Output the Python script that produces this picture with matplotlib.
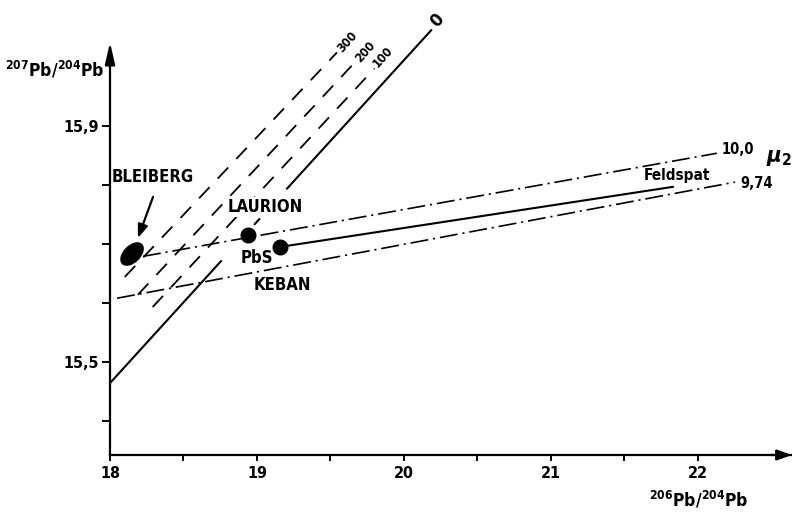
import matplotlib
matplotlib.use('Agg')
import matplotlib.pyplot as plt
import matplotlib.transforms as mtransforms
from matplotlib.patches import Ellipse
from matplotlib import font_manager as fm

# pick a condensed bold sans if one is installed
_names = {f.name for f in fm.fontManager.ttflist}
_dv_cond = any(f.name == 'DejaVu Sans' and 'condensed' in str(f.stretch)
               for f in fm.fontManager.ttflist)
if 'Liberation Sans Narrow' in _names:
    FAM, STRETCH = 'Liberation Sans Narrow', 'normal'
elif _dv_cond:
    FAM, STRETCH = 'DejaVu Sans', 'condensed'
elif 'Roboto Condensed' in _names:
    FAM, STRETCH = 'Roboto Condensed', 'normal'
else:
    FAM, STRETCH = 'Roboto', 'normal'

plt.rcParams['font.family'] = [FAM, 'DejaVu Sans']
plt.rcParams['font.weight'] = 'bold'
plt.rcParams['font.stretch'] = STRETCH
plt.rcParams['mathtext.fontset'] = 'custom'
_pat = FAM + ':weight=bold:stretch=' + STRETCH
plt.rcParams['mathtext.rm'] = _pat
plt.rcParams['mathtext.bf'] = _pat
plt.rcParams['mathtext.it'] = FAM + ':style=italic:weight=bold:stretch=' + STRETCH
plt.rcParams['lines.scale_dashes'] = False

# ---------------- data ----------------
xlim = (18.0, 22.64)
ylim = (15.342, 16.114)
y_axis_top = 16.042
x_major = [18, 19, 20, 21, 22]
x_major_labels = ['18', '19', '20', '21', '22']
x_minor = [18.5, 19.5, 20.5, 21.5]
y_ticks = [15.4, 15.5, 15.6, 15.7, 15.8, 15.9]
y_tick_labels = ['', '15,5', '', '', '', '15,9']

# zero-age isochron (solid), drawn in pieces along its course
iso0_start = (18.0, 15.464)
iso0_end = (20.19, 16.064)
iso0_segments = [(18.0, 18.76), (18.98, 19.02), (19.20, 20.19)]
iso0_label = '0'
iso0_label_pos = (20.224, 16.08)

# dashed isochrons
iso_labels = ['100', '200', '300']
iso_x0 = [18.29, 18.19, 18.10]
iso_y0 = [15.593, 15.614, 15.644]
iso_x1 = [19.80, 19.68, 19.544]
iso_y1 = [15.998, 16.012, 16.025]
iso_label_x = [19.857, 19.735, 19.612]
iso_label_y = [16.017, 16.026, 16.042]

# mu2 growth lines (dash-dot)
mu_labels = ['10,0', '9,74']
mu_x0 = [18.224, 18.048]
mu_y0 = [15.679, 15.608]
mu_x1 = [22.129, 22.252]
mu_y1 = [15.854, 15.805]
mu_label_x = [22.163, 22.286]
mu_label_y = [15.861, 15.803]

# feldspar line
feld_x = [19.156, 21.83]
feld_y = [15.695, 15.797]

# samples
laurion = (18.939, 15.715)
keban = (19.156, 15.695)
bleiberg = (18.150, 15.683)

# ---------------- figure ----------------
fig = plt.figure(figsize=(7.92, 5.12), dpi=100)
ax = fig.add_axes([110 / 792, 57 / 512, 682 / 792, 455 / 512])
ax.set_xlim(*xlim)
ax.set_ylim(*ylim)
for s in ['top', 'right']:
    ax.spines[s].set_visible(False)
ax.spines['left'].set_bounds(ylim[0], y_axis_top - 0.02)
ax.spines['left'].set_linewidth(1.6)
ax.spines['bottom'].set_linewidth(1.6)

# arrows on axes
ax.annotate('', xy=(xlim[0], y_axis_top), xytext=(xlim[0], y_axis_top - 0.04),
            arrowprops=dict(arrowstyle='-|>,head_length=1.3,head_width=0.3',
                            color='black', lw=1.6, shrinkA=0, shrinkB=0),
            annotation_clip=False)
ax.annotate('', xy=(xlim[1], ylim[0]), xytext=(xlim[1] - 0.15, ylim[0]),
            arrowprops=dict(arrowstyle='-|>,head_length=0.9,head_width=0.32',
                            color='black', lw=1.6, shrinkA=0, shrinkB=0),
            annotation_clip=False)

ax.set_xticks(x_major)
ax.set_xticklabels(x_major_labels)
ax.set_xticks(x_minor, minor=True)
ax.set_yticks(y_ticks)
ax.set_yticklabels(y_tick_labels)
ax.tick_params(axis='x', which='both', direction='out', length=4, width=1.4,
               labelsize=11.5, pad=4)
ax.tick_params(axis='y', direction='out', length=6, width=1.4, labelsize=11.5, pad=2)

# zero isochron
slope0 = (iso0_end[1] - iso0_start[1]) / (iso0_end[0] - iso0_start[0])
for a, b in iso0_segments:
    ax.plot([a, b], [iso0_start[1] + slope0 * (a - iso0_start[0]),
                     iso0_start[1] + slope0 * (b - iso0_start[0])],
            color='black', lw=1.5, solid_capstyle='butt', clip_on=False)
ax.text(*iso0_label_pos, iso0_label, rotation=48, ha='center', va='center',
        fontsize=13, clip_on=False)

# dashed isochrons
for xa, ya, xb, yb, lab, lx, ly in zip(iso_x0, iso_y0, iso_x1, iso_y1,
                                         iso_labels, iso_label_x, iso_label_y):
    ax.plot([xa, xb], [ya, yb], color='black', lw=1.3,
            linestyle=(0, (11, 8.5)), dash_capstyle='butt')
    ax.text(lx, ly, lab, rotation=48, ha='center', va='center', fontsize=9)

# mu2 growth lines
for xa, ya, xb, yb, lab, lx, ly in zip(mu_x0, mu_y0, mu_x1, mu_y1,
                                         mu_labels, mu_label_x, mu_label_y):
    ax.plot([xa, xb], [ya, yb], color='black', lw=1.2,
            linestyle=(0, (13, 3.5, 1.5, 3.5)), dash_capstyle='butt')
    ax.text(lx, ly, lab, ha='left', va='center', fontsize=10.5)
ax.text(22.465, 15.846, r'$\mu_2$', ha='left', va='center', fontsize=16,
        math_fontfamily='dejavusans', clip_on=False)

# feldspar line
ax.plot(feld_x, feld_y, color='black', lw=1.5)
ax.text(21.857, 15.817, 'Feldspat', ha='center', va='center', fontsize=11)

# samples
ax.plot(*laurion, 'o', color='black', ms=10.5, zorder=5)
ax.plot(*keban, 'o', color='black', ms=10.5, zorder=5)
tr = fig.dpi_scale_trans + mtransforms.ScaledTranslation(bleiberg[0], bleiberg[1], ax.transData)
ax.add_patch(Ellipse((0, 0), width=0.27, height=0.16, angle=45,
                     transform=tr, color='black', zorder=5))

# labels
ax.text(18.293, 15.814, 'BLEIBERG', ha='center', va='center', fontsize=12)
ax.annotate('', xy=(18.190, 15.710), xytext=(18.293, 15.780),
            arrowprops=dict(arrowstyle='-|>,head_length=0.8,head_width=0.3',
                            color='black', lw=1.6, shrinkA=0, shrinkB=0))
ax.text(19.054, 15.763, 'LAURION', ha='center', va='center', fontsize=12,
        bbox=dict(facecolor='white', edgecolor='none', pad=1), zorder=4)
ax.text(19.0, 15.676, 'PbS', ha='center', va='center', fontsize=12)
ax.text(19.17, 15.630, 'KEBAN', ha='center', va='center', fontsize=12)

# axis titles
fig.text(55 / 792, 1 - 70 / 512, r'$^{207}$Pb/$^{204}$Pb', ha='center', va='center',
         fontsize=12.5)
fig.text(699 / 792, 1 - 500 / 512, r'$^{206}$Pb/$^{204}$Pb', ha='center', va='center',
         fontsize=12.5)

fig.savefig('out.png', dpi=100)
